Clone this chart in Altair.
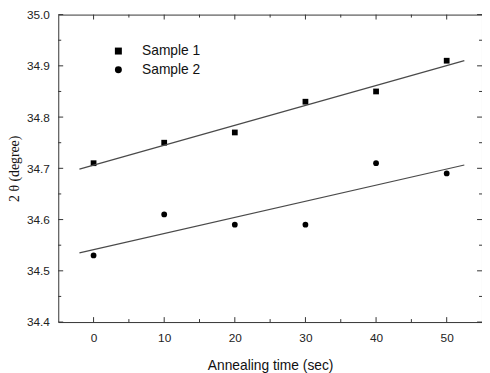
import altair as alt
import pandas as pd

times = [0, 10, 20, 30, 40, 50]
sample1 = [34.71, 34.75, 34.77, 34.83, 34.85, 34.91]
sample2 = [34.53, 34.61, 34.59, 34.59, 34.71, 34.69]
series = ["Sample 1", "Sample 2"]
x_major = [0, 10, 20, 30, 40, 50]
x_minor = [5, 15, 25, 35, 45]
y_major = [34.4, 34.5, 34.6, 34.7, 34.8, 34.9, 35.0]
y_minor = [34.45, 34.55, 34.65, 34.75, 34.85, 34.95]

df = pd.DataFrame({
    "time": times * 2,
    "theta": sample1 + sample2,
    "sample": [series[0]] * len(times) + [series[1]] * len(times),
})

W, H = 430, 312
FONT = "Liberation Sans"
TICK = "#333"
xs = alt.Scale(domain=[-5, 55], nice=False, zero=False)
ys = alt.Scale(domain=[34.4, 35.0], nice=False, zero=False)

base = alt.Chart(df)

points = base.mark_point(filled=True, opacity=1, color="black", size=34).encode(
    x=alt.X("time:Q", scale=xs, axis=alt.Axis(
        orient="bottom", values=x_major, tickSize=0, domain=False, grid=False,
        title="Annealing time (sec)", labelPadding=11, labelFont=FONT, labelFontSize=12,
        labelColor="#222", titleFont=FONT, titleFontSize=14, titleFontWeight="normal",
        titleColor="#111", titlePadding=15)),
    y=alt.Y("theta:Q", scale=ys, axis=alt.Axis(
        orient="left", values=y_major, tickSize=0, domain=False, grid=False,
        format=".1f", title="2 θ (degree)", labelPadding=9, labelFont=FONT,
        labelFontSize=12, labelColor="#222", titleFont="Liberation Serif",
        titleFontSize=14, titleFontWeight="normal", titleColor="#111", titlePadding=5)),
    shape=alt.Shape("sample:N", scale=alt.Scale(domain=series, range=["square", "circle"]),
                    legend=alt.Legend(orient="none", legendX=54, legendY=30, title=None,
                                      labelFont=FONT, labelFontSize=14, labelColor="#111",
                                      symbolSize=50, symbolFillColor="black",
                                      symbolStrokeColor="black", labelOffset=17,
                                      rowPadding=5, padding=0)),
)

lines = base.transform_regression(
    "time", "theta", groupby=["sample"], extent=[-2, 52.5]
).mark_line(color="#4a4a4a", strokeWidth=1.2).encode(
    x=alt.X("time:Q", scale=xs),
    y=alt.Y("theta:Q", scale=ys),
    detail="sample:N",
)


def xticks(vals, size):
    d = alt.Chart(pd.DataFrame({"v": vals}))
    top = d.mark_rule(color=TICK, strokeWidth=1).encode(
        x=alt.X("v:Q", scale=xs), y=alt.value(0), y2=alt.value(size))
    bot = d.mark_rule(color=TICK, strokeWidth=1).encode(
        x=alt.X("v:Q", scale=xs), y=alt.value(H - size), y2=alt.value(H))
    return [top, bot]


def yticks(vals, size):
    d = alt.Chart(pd.DataFrame({"v": vals}))
    left = d.mark_rule(color=TICK, strokeWidth=1).encode(
        y=alt.Y("v:Q", scale=ys), x=alt.value(0), x2=alt.value(size))
    right = d.mark_rule(color=TICK, strokeWidth=1).encode(
        y=alt.Y("v:Q", scale=ys), x=alt.value(W - size), x2=alt.value(W))
    return [left, right]


tick_layers = xticks(x_major, 5) + xticks(x_minor, 3) + yticks(y_major, 5) + yticks(y_minor, 3)

chart = alt.layer(points, lines, *tick_layers).properties(
    width=W, height=H,
    autosize=alt.AutoSizeParams(type="none"),
    padding={"left": 51, "top": 4, "right": 0, "bottom": 49},
).configure_view(stroke="#333", strokeWidth=1)

chart.save("out.html", embed_options={"renderer": "svg", "actions": False})
